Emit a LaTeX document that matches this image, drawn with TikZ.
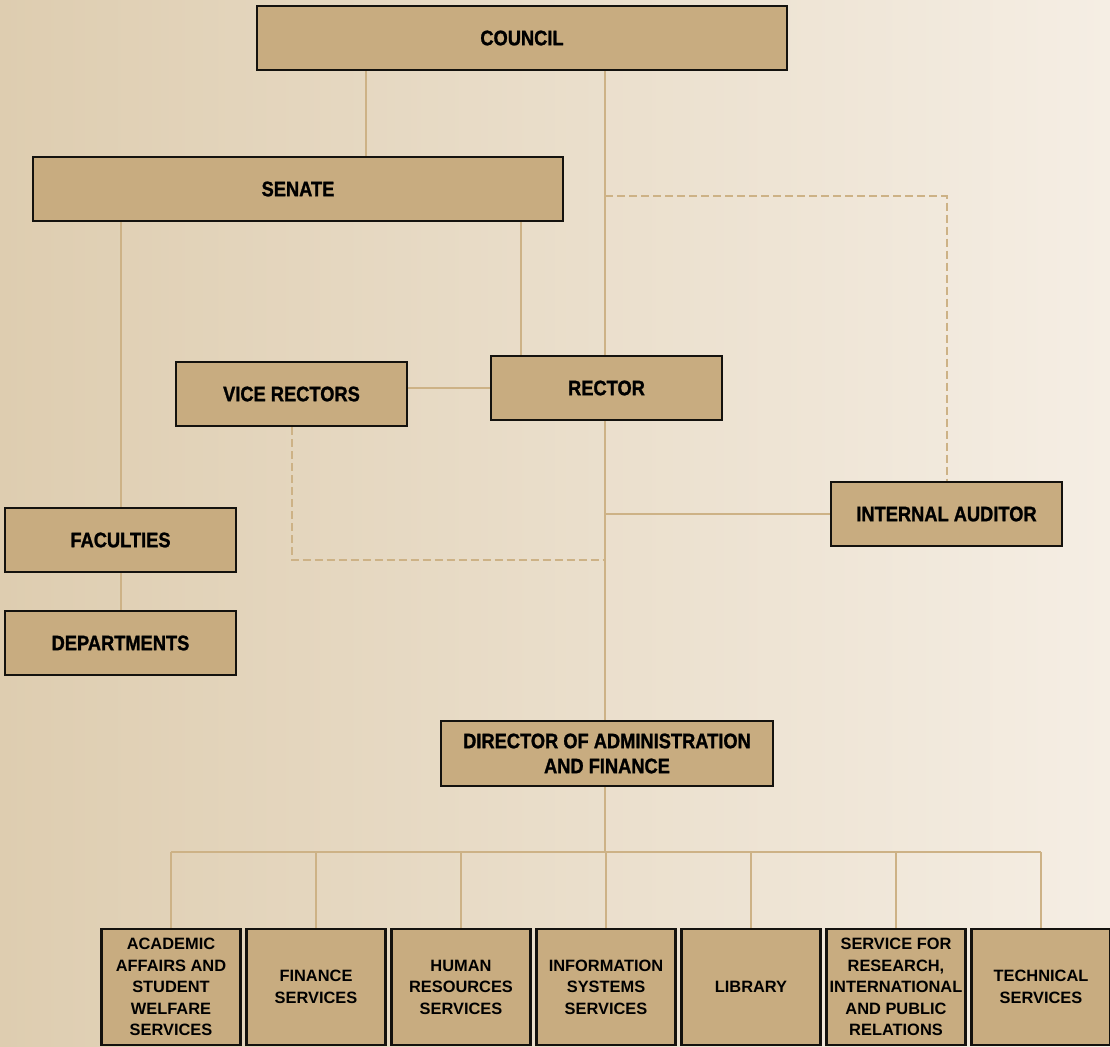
\documentclass[tikz,border=0pt]{standalone}
\usepackage{fontspec}
\setmainfont{Liberation Sans}
\newfontfamily\condfont{Liberation Sans}[FakeStretch=0.87, BoldFeatures={FakeBold=1.2}]
\usetikzlibrary{backgrounds}

\definecolor{paperleft}{RGB}{222,205,176}
\definecolor{paperright}{RGB}{245,238,228}
\definecolor{boxfill}{RGB}{200,172,128}
\definecolor{boxline}{RGB}{20,18,14}
\definecolor{linkcol}{RGB}{205,178,134}

\begin{document}
\begin{tikzpicture}[x=0.5pt, y=-0.5pt,
    unit/.style={draw=boxline, line width=1.2pt, fill=boxfill, inner sep=0pt, align=center,
        font={\condfont\bfseries\fontsize{10.5}{12.5}\selectfont}},
    wideunit/.style={unit, minimum width=265pt, minimum height=32pt},
    midunit/.style={unit, minimum width=115.5pt, minimum height=32pt},
    service/.style={unit, minimum width=69.5pt, minimum height=58pt,
        font={\bfseries\fontsize{8.2}{10.75}\selectfont}},
    link/.style={draw=linkcol, line width=1pt},
    duty/.style={link, dash pattern=on 4pt off 2pt}]
    \useasboundingbox (0,0) rectangle (1110,1046);
    \begin{scope}[on background layer]
        \shade[left color=paperleft, right color=paperright] (0,0) rectangle (1110,1046);
    \end{scope}

    % governing bodies
    \node[wideunit] (council) at (522,38) {COUNCIL};
    \node[wideunit] (senate) at (298,189) {SENATE};
    \node[midunit] (vicerect) at (291.5,394) {VICE RECTORS};
    \node[midunit] (rector) at (606.5,388) {RECTOR};
    \node[midunit] (auditor) at (946.5,514) {INTERNAL AUDITOR};
    \node[midunit] (faculties) at (120.5,540) {FACULTIES};
    \node[midunit] (departments) at (120.5,643) {DEPARTMENTS};
    \node[unit, minimum width=166pt, minimum height=32.5pt] (director) at (607,753.5)
        {DIRECTOR OF ADMINISTRATION\\AND FINANCE};

    % services
    \node[service] (srv1) at (171,987) {ACADEMIC\\AFFAIRS AND\\STUDENT\\WELFARE\\SERVICES};
    \node[service] (srv2) at (316,987) {FINANCE\\SERVICES};
    \node[service] (srv3) at (461,987) {HUMAN\\RESOURCES\\SERVICES};
    \node[service] (srv4) at (606,987) {INFORMATION\\SYSTEMS\\SERVICES};
    \node[service] (srv5) at (751,987) {LIBRARY};
    \node[service] (srv6) at (896,987) {SERVICE FOR\\RESEARCH,\\INTERNATIONAL\\AND PUBLIC\\RELATIONS};
    \node[service] (srv7) at (1041,987) {TECHNICAL\\SERVICES};

    \coordinate (spine) at ([xshift=-0.75pt]rector.north);
    \coordinate (dashtop) at (0,196);
    \coordinate (dashlow) at (0,560);
    \coordinate (bar) at (0,852);

    \begin{scope}[on background layer]
        \draw[link] ([xshift=55pt]council.south west) -- ([xshift=55pt]council.south west |- senate.north);
        \draw[link] (spine |- council.south) -- (spine);
        \draw[link] ([xshift=-21.5pt]senate.south east) -- ([xshift=-21.5pt]senate.south east |- rector.north);
        \draw[link] (faculties.north |- senate.south) -- (faculties.north);
        \draw[link] (faculties.south) -- (departments.north);
        \draw[link] (vicerect.east |- rector.west) -- (rector.west);
        \draw[link] (spine |- rector.south) -- (spine |- director.north);
        \draw[link] (spine |- auditor.west) -- (auditor.west);
        \draw[duty] (spine |- dashtop) -| (auditor.north);
        \draw[duty] (vicerect.south) |- (spine |- dashlow);
        \draw[link] (spine |- director.south) -- (spine |- bar);
        \draw[link] (srv1.north |- bar) -- (srv7.north |- bar);
        \foreach \i in {1,...,7}
            \draw[link] (srv\i.north |- bar) -- (srv\i.north);
    \end{scope}
\end{tikzpicture}
\end{document}
